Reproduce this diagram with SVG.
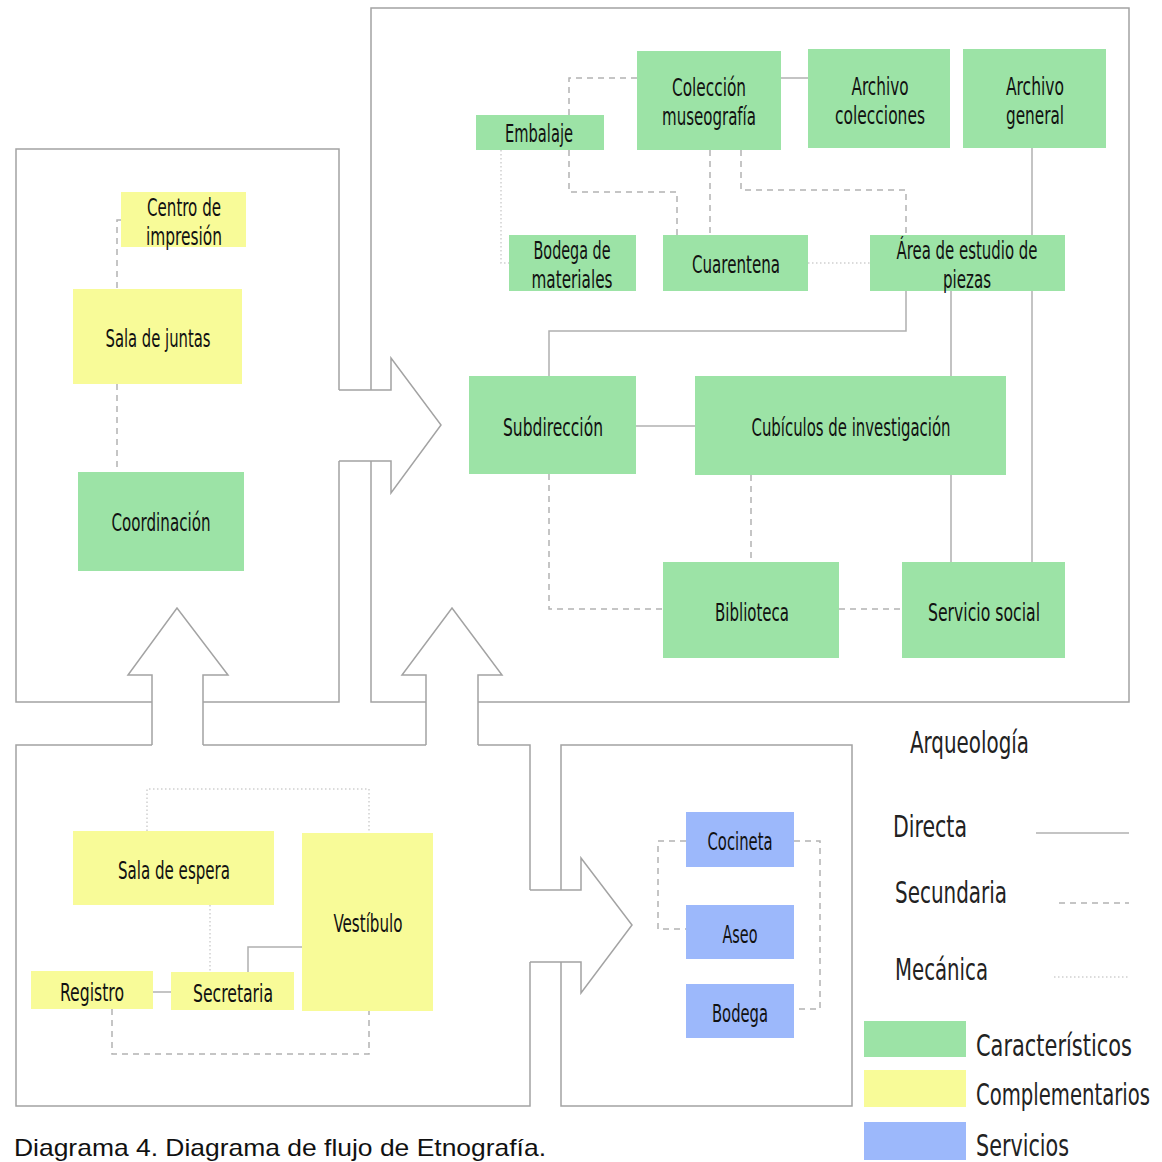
<svg xmlns="http://www.w3.org/2000/svg" width="1162" height="1162" viewBox="0 0 1162 1162">
<style>
.frame{fill:none;stroke:#a3a3a3;stroke-width:1.5}
.d{fill:none;stroke:#b0b0b0;stroke-width:1.5}
.s{fill:none;stroke:#b3b3b3;stroke-width:1.5;stroke-dasharray:6 5}
.m{fill:none;stroke:#d0d0d0;stroke-width:1.5;stroke-dasharray:1.5 2.5}
.g{fill:#9ce3a6}
.y{fill:#f8fb98}
.b{fill:#9cb8fb}
text{font-family:"DejaVu Sans Condensed","DejaVu Sans",sans-serif;fill:#111;text-anchor:middle;font-size:24px}
.big{font-size:30px;text-anchor:start;fill:#222}
.lg{font-size:24px;text-anchor:start;fill:#222}
.lg2{font-size:21px;text-anchor:start;fill:#222}
.cap{font-family:"Liberation Sans",Arial,sans-serif;font-size:24px;text-anchor:start;fill:#111}
</style>
<rect width="1162" height="1162" fill="#fff"/>
<g id="frames">
<path class="frame" d="M371,390 V8 H1129 V702 H478 M426,702 H371 V461"/>
<path class="frame" d="M152,702 H16 V149 H339 V390 M339,461 V702 H203"/>
<path class="frame" d="M339,390 H391 V358 L441,425 L391,493 V461 H339"/>
<path class="frame" d="M152,745 V675 H128 L177,608 L228,675 H203 V745"/>
<path class="frame" d="M426,745 V675 H402 L452,608 L502,675 H478 V745"/>
<path class="frame" d="M152,745 H16 V1106 H530 V962 M530,890 V745 H478 M203,745 H426"/>
<path class="frame" d="M530,890 H581 V858 L632,925 L581,993 V962 H530"/>
<path class="frame" d="M561,890 V745 H852 V1106 H561 V962"/>
</g>
<g id="connectors">
<path class="s" d="M121,220 H117 V289 M117,384 V472"/>
<path class="s" d="M637,78 H569 V115 M569,150 V192 H677 V235"/>
<path class="s" d="M710,150 V235"/>
<path class="s" d="M741,150 V190 H906 V235"/>
<path class="d" d="M781,78 H808"/>
<path class="m" d="M501,150 V263 H509"/>
<path class="m" d="M808,263 H870"/>
<path class="d" d="M1032,148 V562"/>
<path class="d" d="M906,291 V331 H549 V376"/>
<path class="d" d="M951,291 V376 M951,475 V562"/>
<path class="d" d="M636,426 H695"/>
<path class="s" d="M549,474 V609 H663"/>
<path class="s" d="M751,475 V562"/>
<path class="s" d="M839,609 H902"/>
<path class="m" d="M147,831 V789 H369 V833"/>
<path class="m" d="M210,905 V972"/>
<path class="d" d="M153,992 H171"/>
<path class="d" d="M248,972 V947 H302"/>
<path class="s" d="M112,1009 V1054 H369 V1011"/>
<path class="s" d="M686,841 H658 V929 H686"/>
<path class="s" d="M794,841 H820 V1009 H794"/>
</g>
<g id="centro"><rect class="y" x="121" y="192" width="125" height="55"/><text x="184" y="216" textLength="74" lengthAdjust="spacingAndGlyphs">Centro de</text><text x="184" y="245" textLength="76" lengthAdjust="spacingAndGlyphs">impresión</text></g>
<g id="salajuntas"><rect class="y" x="73" y="289" width="169" height="95"/><text x="158" y="347" textLength="105" lengthAdjust="spacingAndGlyphs">Sala de juntas</text></g>
<g id="coordinacion"><rect class="g" x="78" y="472" width="166" height="99"/><text x="161" y="531" textLength="99" lengthAdjust="spacingAndGlyphs">Coordinación</text></g>
<g id="embalaje"><rect class="g" x="476" y="115" width="128" height="35"/><text x="539" y="142" textLength="68" lengthAdjust="spacingAndGlyphs">Embalaje</text></g>
<g id="coleccion"><rect class="g" x="637" y="51" width="144" height="99"/><text x="709" y="96" textLength="74" lengthAdjust="spacingAndGlyphs">Colección</text><text x="709" y="125" textLength="94" lengthAdjust="spacingAndGlyphs">museografía</text></g>
<g id="archivocol"><rect class="g" x="808" y="49" width="142" height="99"/><text x="880" y="95" textLength="57" lengthAdjust="spacingAndGlyphs">Archivo</text><text x="880" y="124" textLength="90" lengthAdjust="spacingAndGlyphs">colecciones</text></g>
<g id="archivogen"><rect class="g" x="963" y="49" width="143" height="99"/><text x="1035" y="95" textLength="58" lengthAdjust="spacingAndGlyphs">Archivo</text><text x="1035" y="124" textLength="58" lengthAdjust="spacingAndGlyphs">general</text></g>
<g id="bodegamat"><rect class="g" x="509" y="235" width="127" height="56"/><text x="572" y="259" textLength="77" lengthAdjust="spacingAndGlyphs">Bodega de</text><text x="572" y="288" textLength="81" lengthAdjust="spacingAndGlyphs">materiales</text></g>
<g id="cuarentena"><rect class="g" x="663" y="235" width="145" height="56"/><text x="736" y="273" textLength="88" lengthAdjust="spacingAndGlyphs">Cuarentena</text></g>
<g id="area"><rect class="g" x="870" y="235" width="195" height="56"/><text x="967" y="259" textLength="141" lengthAdjust="spacingAndGlyphs">Área de estudio de</text><text x="967" y="288" textLength="48" lengthAdjust="spacingAndGlyphs">piezas</text></g>
<g id="subdireccion"><rect class="g" x="469" y="376" width="167" height="98"/><text x="553" y="436" textLength="100" lengthAdjust="spacingAndGlyphs">Subdirección</text></g>
<g id="cubiculos"><rect class="g" x="695" y="376" width="311" height="99"/><text x="851" y="436" textLength="199" lengthAdjust="spacingAndGlyphs">Cubículos de investigación</text></g>
<g id="biblioteca"><rect class="g" x="663" y="562" width="176" height="96"/><text x="752" y="621" textLength="74" lengthAdjust="spacingAndGlyphs">Biblioteca</text></g>
<g id="servicio"><rect class="g" x="902" y="562" width="163" height="96"/><text x="984" y="621" textLength="112" lengthAdjust="spacingAndGlyphs">Servicio social</text></g>
<g id="salaespera"><rect class="y" x="73" y="831" width="201" height="74"/><text x="174" y="879" textLength="112" lengthAdjust="spacingAndGlyphs">Sala de espera</text></g>
<g id="vestibulo"><rect class="y" x="302" y="833" width="131" height="178"/><text x="368" y="932" textLength="69" lengthAdjust="spacingAndGlyphs">Vestíbulo</text></g>
<g id="registro"><rect class="y" x="31" y="971" width="122" height="38"/><text x="92" y="1001" textLength="64" lengthAdjust="spacingAndGlyphs">Registro</text></g>
<g id="secretaria"><rect class="y" x="171" y="972" width="123" height="38"/><text x="233" y="1002" textLength="80" lengthAdjust="spacingAndGlyphs">Secretaria</text></g>
<g id="cocineta"><rect class="b" x="686" y="812" width="108" height="55"/><text x="740" y="850" textLength="65" lengthAdjust="spacingAndGlyphs">Cocineta</text></g>
<g id="aseo"><rect class="b" x="686" y="905" width="108" height="54"/><text x="740" y="943" textLength="35" lengthAdjust="spacingAndGlyphs">Aseo</text></g>
<g id="bodega"><rect class="b" x="686" y="984" width="108" height="54"/><text x="740" y="1022" textLength="56" lengthAdjust="spacingAndGlyphs">Bodega</text></g>
<g id="legend">
<text class="big" x="910" y="753" textLength="119" lengthAdjust="spacingAndGlyphs">Arqueología</text>
<text class="big" x="893" y="837" textLength="74" lengthAdjust="spacingAndGlyphs">Directa</text>
<path class="d" d="M1036,833 H1129"/>
<text class="big" x="895" y="903" textLength="112" lengthAdjust="spacingAndGlyphs">Secundaria</text>
<path class="s" d="M1059,903 H1129"/>
<text class="big" x="895" y="980" textLength="93" lengthAdjust="spacingAndGlyphs">Mecánica</text>
<path class="m" d="M1054,977 H1129"/>
<rect class="g" x="864" y="1021" width="102" height="36"/>
<text class="lg" x="976" y="844.8" transform="scale(1,1.25)" textLength="156" lengthAdjust="spacingAndGlyphs">Característicos</text>
<rect class="y" x="864" y="1070" width="102" height="37"/>
<text class="lg2" x="976" y="789.3" transform="scale(1,1.4)" textLength="174" lengthAdjust="spacingAndGlyphs">Complementarios</text>
<rect class="b" x="864" y="1122" width="102" height="38"/>
<text class="big" x="976" y="1156" textLength="93" lengthAdjust="spacingAndGlyphs">Servicios</text>
</g>
<text class="cap" x="14" y="1156" textLength="532" lengthAdjust="spacingAndGlyphs">Diagrama 4. Diagrama de flujo de Etnografía.</text>
</svg>
